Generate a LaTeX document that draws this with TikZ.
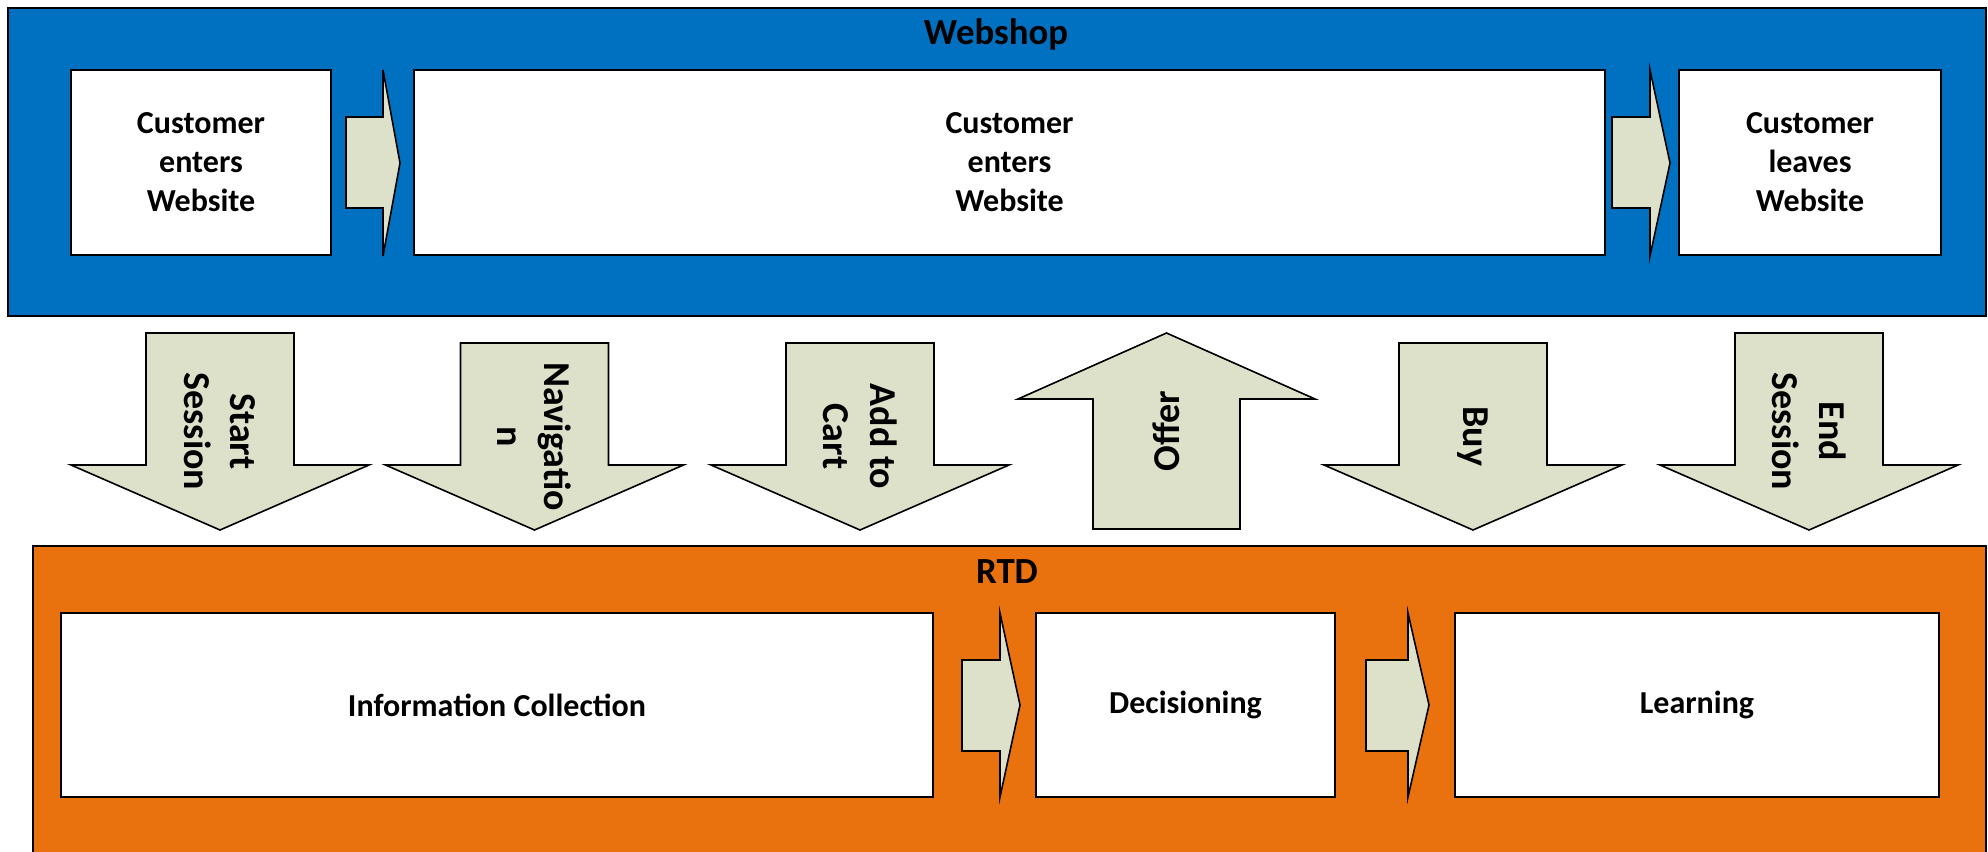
\documentclass[tikz,border=0pt]{standalone}
\usepackage{fontspec}
\setmainfont{Carlito}
\definecolor{webblue}{HTML}{0070C0}
\definecolor{rtdorange}{HTML}{E9710E}
\definecolor{flowfill}{HTML}{DDE1CA}
\tikzset{
  panel/.style={draw=black, line width=1pt, inner sep=0pt, outer sep=0pt},
  stage/.style={draw=black, line width=1pt, fill=white, inner sep=0pt, outer sep=0pt,
    align=center, font=\fontsize{16}{19.5}\selectfont\bfseries},
  flow/.style={draw=black, line width=0.8pt, fill=flowfill, line join=miter},
  flowlabel/.style={align=center, inner sep=0pt, font=\fontsize{19}{23.3}\selectfont\bfseries},
  paneltitle/.style={anchor=base, inner sep=0pt, font=\fontsize{18.4}{22}\selectfont\bfseries}
}
% downward block arrow: name, centre x, top y, label
\newcommand{\flowdown}[4]{%
  \draw[flow] (#2-74,#3) -- (#2+74,#3) -- (#2+74,465) -- (#2+149,465) -- (#2,530)
    -- (#2-149,465) -- (#2-74,465) -- cycle;
  \node[flowlabel, rotate=-90] (#1) at (#2,{(#3+530)/2}) {#4};}
\begin{document}
\begin{tikzpicture}[x=0.5pt, y=-0.5pt]
  \clip (0,0) rectangle (1988,852);

  % Webshop lane
  \node[panel, fill=webblue, minimum width=989pt, minimum height=154pt] (webshop) at (997,162) {};
  \node[paneltitle] (webtitle) at (996,44) {Webshop};
  \node[stage, minimum width=130pt, minimum height=92.5pt] (enter) at (201,162.5) {Customer\\enters\\Website};
  \node[stage, minimum width=595.5pt, minimum height=92.5pt] (browse) at (1009.5,162.5) {Customer\\enters\\Website};
  \node[stage, minimum width=131pt, minimum height=92.5pt] (leave) at (1810,162.5) {Customer\\leaves\\Website};
  \draw[flow] (346,117) -- (383,117) -- (383,70) -- (400,163) -- (383,256) -- (383,208) -- (346,208) -- cycle;
  \draw[flow] (1612,117) -- (1650,117) -- (1650,70) -- (1670,163) -- (1650,256) -- (1650,208) -- (1612,208) -- cycle;

  % RTD lane
  \node[panel, fill=rtdorange, minimum width=976.5pt, minimum height=162pt] (rtd) at (1009.5,708) {};
  \node[paneltitle] (rtdtitle) at (1007,583) {RTD};
  \node[stage, minimum width=436pt, minimum height=92pt] (collect) at (497,705) {Information Collection};
  \node[stage, minimum width=149.5pt, minimum height=92pt] (decide) at (1185.5,705) {Decisioning};
  \node[stage, minimum width=242pt, minimum height=92pt] (learn) at (1697,705) {Learning};
  \draw[flow] (962,660) -- (1000,660) -- (1000,613) -- (1020,705) -- (1000,797) -- (1000,751) -- (962,751) -- cycle;
  \draw[flow] (1366,660) -- (1408,660) -- (1408,613) -- (1429,705) -- (1408,797) -- (1408,751) -- (1366,751) -- cycle;

  % events between the lanes
  \flowdown{start}{220}{333}{Start\\Session}
  \flowdown{nav}{534.5}{343}{Navigatio\\n}
  \flowdown{cart}{860}{343}{Add to\\Cart}
  \draw[flow] (1166.5,333) -- (1315,399) -- (1240,399) -- (1240,529) -- (1093,529) -- (1093,399)
    -- (1018,399) -- cycle;
  \node[flowlabel, rotate=90] (offer) at (1166.5,431) {Offer};
  \flowdown{buy}{1473}{343}{Buy}
  \flowdown{endsess}{1809}{333}{End\\Session}
\end{tikzpicture}
\end{document}
